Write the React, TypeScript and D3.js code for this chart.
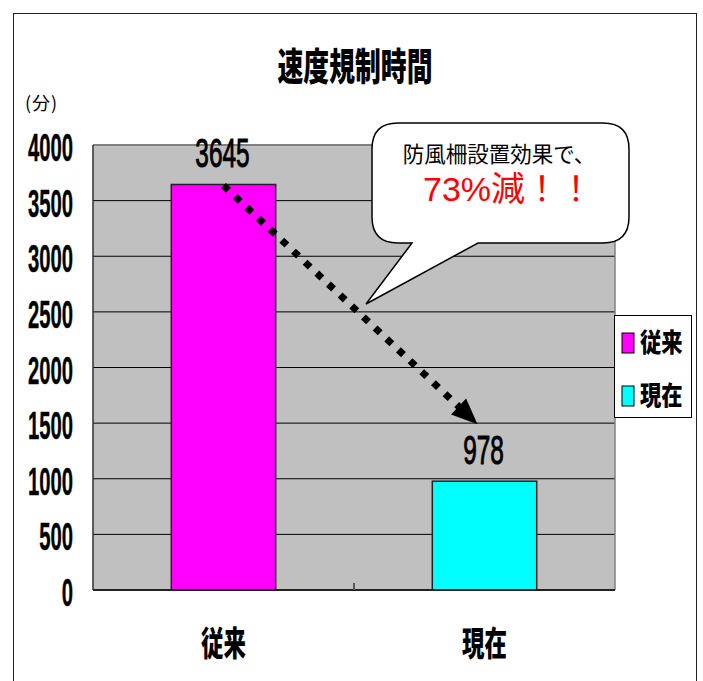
import React from "react";
import * as d3 from "d3";

const categories = ["従来", "現在"];
const values = [3645, 978];
const colors = ["#FF00FF", "#00FFFF"];
const yTicks = [0, 500, 1000, 1500, 2000, 2500, 3000, 3500, 4000];
const title = "速度規制時間";
const unitLabel = "(分)";
const calloutLine1 = "防風柵設置効果で、";
const calloutLine2 = "73%減！！";

const W = 703;
const H = 681;
const plot = { left: 93, right: 615, top: 145, bottom: 590 };

const CJK = "'Noto Sans CJK JP', 'Noto Sans CJK SC', sans-serif";
const LAT = "'Liberation Sans', Arial, 'Noto Sans CJK JP', sans-serif";

function SText({ x, y, sx = 1, children, ...rest }: any) {
  return (
    <text transform={`translate(${x},${y}) scale(${sx},1)`} {...rest}>
      {children}
    </text>
  );
}

export default function App() {
  const x = d3
    .scalePoint<string>()
    .domain(categories)
    .range([plot.left, plot.right])
    .padding(0.5);
  const step = x.step();
  const barW = step * 0.4;
  const y = d3.scaleLinear().domain([0, 4000]).range([plot.bottom, plot.top]);

  // arrow
  const ax0 = x(categories[0])!;
  const ay0 = y(values[0]) + 1;
  const tipX = x(categories[1])! - 7;
  const tipY = y(values[1]) - 57;
  const ang = Math.atan2(tipY - ay0, tipX - ax0);
  const headLen = 26;
  const headHalf = 11;
  const bx = tipX - headLen * Math.cos(ang);
  const by = tipY - headLen * Math.sin(ang);
  const px = -Math.sin(ang);
  const py = Math.cos(ang);
  const head = `M${tipX},${tipY} L${bx + px * headHalf},${by + py * headHalf} L${bx - px * headHalf},${by - py * headHalf} Z`;

  // callout
  const cx0 = 372, cy0 = 123, cx1 = 629, cy1 = 243, r = 26;
  const callout = [
    `M${cx0 + r},${cy0}`,
    `L${cx1 - r},${cy0}`,
    `Q${cx1},${cy0} ${cx1},${cy0 + r}`,
    `L${cx1},${cy1 - r}`,
    `Q${cx1},${cy1} ${cx1 - r},${cy1}`,
    `L478,${cy1}`,
    `L366,304`,
    `L412,${cy1}`,
    `L${cx0 + r},${cy1}`,
    `Q${cx0},${cy1} ${cx0},${cy1 - r}`,
    `L${cx0},${cy0 + r}`,
    `Q${cx0},${cy0} ${cx0 + r},${cy0}`,
    "Z",
  ].join(" ");

  return (
    <svg width={W} height={H} style={{ position: "absolute", left: 0, top: 0 }}>
      <rect x={0} y={0} width={W} height={H} fill="#fff" />
      <rect x={13.5} y={13.5} width={683} height={700} fill="none" stroke="#222" strokeWidth={1} />

      {/* title */}
      <SText x={355} y={80} sx={0.68} textAnchor="middle" fontFamily={CJK} fontWeight={900} fontSize={38} fill="#000">
        {title}
      </SText>
      <text x={25} y={110} fontFamily={CJK} fontSize={18} fill="#000" letterSpacing={1}>
        {unitLabel}
      </text>

      {/* plot area */}
      <rect x={plot.left} y={plot.top} width={plot.right - plot.left} height={plot.bottom - plot.top} fill="#C0C0C0" />
      {yTicks.filter((t) => t > 0 && t < 4000).map((t) => (
        <line key={t} x1={plot.left} x2={plot.right} y1={y(t)} y2={y(t)} stroke="#000" strokeWidth={1} />
      ))}
      <line x1={plot.left} x2={plot.right} y1={plot.top} y2={plot.top} stroke="#808080" strokeWidth={2} />
      <line x1={plot.right} x2={plot.right} y1={plot.top} y2={plot.bottom} stroke="#808080" strokeWidth={1.5} />
      <line x1={plot.left} x2={plot.left} y1={plot.top} y2={plot.bottom} stroke="#333" strokeWidth={1.5} />

      {/* bars */}
      {categories.map((c, i) => (
        <rect
          key={c}
          x={x(c)! - barW / 2}
          y={y(values[i])}
          width={barW}
          height={y(0) - y(values[i])}
          fill={colors[i]}
          stroke="#222"
          strokeWidth={1.5}
        />
      ))}
      <line x1={plot.left} x2={plot.right} y1={plot.bottom} y2={plot.bottom} stroke="#222" strokeWidth={2} />
      <line x1={(plot.left + plot.right) / 2} x2={(plot.left + plot.right) / 2} y1={plot.bottom - 7} y2={plot.bottom} stroke="#555" strokeWidth={2} />

      {/* y tick labels */}
      {yTicks.map((t) => (
        <SText key={t} x={73} y={y(t) + 16} sx={0.52} textAnchor="end" fontFamily={LAT} fontWeight={700} fontSize={39} fill="#000" stroke="#000" strokeWidth={0.4}>
          {t}
        </SText>
      ))}

      {/* value labels */}
      {categories.map((c, i) => (
        <SText key={c} x={x(c)! - 1} y={y(values[i]) - 17} sx={0.61} textAnchor="middle" fontFamily={LAT} fontSize={40} fill="#000" stroke="#000" strokeWidth={1}>
          {values[i]}
        </SText>
      ))}

      {/* x labels */}
      {categories.map((c) => (
        <SText key={c} x={x(c)!} y={656} sx={0.66} textAnchor="middle" fontFamily={CJK} fontWeight={900} fontSize={34} fill="#000">
          {c}
        </SText>
      ))}

      {/* arrow */}
      <line x1={ax0} y1={ay0} x2={bx + 2 * Math.cos(ang)} y2={by + 2 * Math.sin(ang)} stroke="#000" strokeWidth={7} strokeDasharray="7 9" />
      <path d={head} fill="#000" />

      {/* callout */}
      <path d={callout} fill="#fff" stroke="#000" strokeWidth={1.5} />
      <text x={499} y={162} textAnchor="middle" fontFamily={CJK} fontSize={21.5} fill="#000">
        {calloutLine1}
      </text>
      <text x={423} y={201} fontFamily={LAT} fontSize={34} fill="#FF0000">
        {calloutLine2}
      </text>

      {/* legend */}
      <rect x={614.5} y={315.5} width={77} height={102} fill="#fff" stroke="#000" strokeWidth={1} />
      {categories.map((c, i) => (
        <g key={c}>
          <rect x={622} y={333 + i * 53} width={12} height={20} fill={colors[i]} stroke="#000" strokeWidth={1} />
          <SText x={640} y={352 + i * 53} sx={0.82} fontFamily={CJK} fontWeight={900} fontSize={26} fill="#000">
            {c}
          </SText>
        </g>
      ))}
    </svg>
  );
}
